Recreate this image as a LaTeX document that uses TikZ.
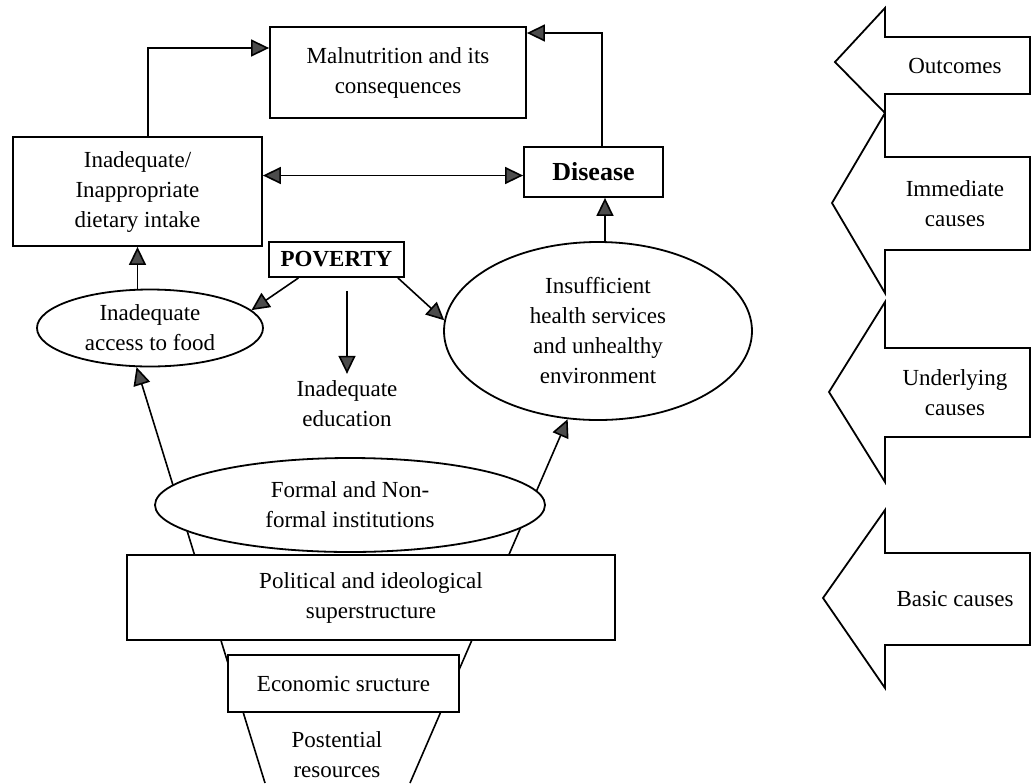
\documentclass[tikz,border=0pt]{standalone}
\usepackage{fontspec}
\setmainfont{Liberation Serif}
\usetikzlibrary{arrows.meta,shapes.geometric,backgrounds}

\tikzset{
  every node/.style={font=\fontsize{11.5}{15}\selectfont},
  box/.style={draw, fill=white, line width=0.9pt, inner sep=1pt, align=center},
  oval/.style={draw, ellipse, fill=white, line width=0.9pt, inner sep=0pt, align=center},
  txt/.style={align=center},
  arr/.style={line width=0.8pt, -{Triangle[length=9pt,width=8.5pt,fill=black!70]}},
  arrs/.style={line width=0.8pt, {Triangle[length=9pt,width=8.5pt,fill=black!70]}-{Triangle[length=9pt,width=8.5pt,fill=black!70]}},
}

\begin{document}
\begin{tikzpicture}[x=0.5pt,y=-0.5pt]
	\useasboundingbox (0,0) rectangle (1035,783);
	% top row
	\node[box, minimum width=124.5pt, minimum height=54.5pt] (diet) at (137.5,191.5) {Inadequate/\\Inappropriate\\dietary intake};
	\node[box, minimum width=128pt, minimum height=45.5pt] (maln) at (398,72.5) {Malnutrition and its\\consequences};
	\node[box, minimum width=69.5pt, minimum height=25pt, font=\fontsize{13}{15}\selectfont\bfseries] (dis) at (593.5,172) {Disease};
	\node[box, minimum width=67.5pt, minimum height=17.5pt, font=\fontsize{11.5}{15}\selectfont\bfseries] (pov) at (336.5,259.5) {POVERTY};
	% middle row
	\node[oval, minimum width=113pt, minimum height=38.5pt] (acc) at (150,328) {Inadequate\\access to food};
	\node[txt] (edu) at (347,404) {Inadequate\\education};
	\node[oval, minimum width=154pt, minimum height=89pt] (hlth) at (598,331) {Insufficient\\health services\\and unhealthy\\environment};
	% funnel
	\node[oval, minimum width=195pt, minimum height=47pt] (inst) at (350,505) {Formal and Non-\\formal institutions};
	\node[box, minimum width=244pt, minimum height=42.5pt] (pol) at (371,597.5) {Political and ideological\\superstructure};
	\node[box, minimum width=115.5pt, minimum height=28.5pt] (eco) at (343.5,683.5) {Economic sructure};
	\node[txt] (res) at (337,755) {Postential\\resources};
	\coordinate (fl) at (265,783);
	\coordinate (fr) at (410,783);

	\draw[arr] ([xshift=5.25pt]diet.north) |- ([yshift=12.25pt]maln.west);
	\draw[arr] ([xshift=4.25pt]dis.north) |- ([yshift=19.75pt]maln.east);
	\draw[arrs] ([yshift=8pt]diet.east) -- ([yshift=8pt]diet.east -| dis.west);
	\draw[arr] (acc.north -| diet.south) -- (diet.south);
	\draw[arr] ([xshift=3.5pt]hlth.north) -- ([xshift=3.5pt]hlth.north |- dis.south);
	\draw[arr] ([xshift=-19pt]pov.south) -- (acc.10);
	\draw[arr] ([yshift=-6.5pt]pov.south -| edu.north) -- (edu.north);
	\draw[arr] ([xshift=-3.5pt]pov.south east) -- (hlth.176);
	\begin{scope}[on background layer]
		\draw[arr] (fl) -- (acc.251);
		\draw[arr] (fr) -- (hlth.251);
	\end{scope}

	% levels on the right
	\foreach \tb/\sa/\sb/\bb/\tx/\ty/\name/\txt in {
		8/37/94/113/835/62/out/Outcomes,
		113/157/250/293/832/203/imm/{Immediate\\causes},
		302/348/437/482/829/392/und/{Underlying\\causes},
		510/553/645/688/823/598/bas/{Basic causes}}
	{
		\draw[line width=0.9pt] (885,\tb) -- (\tx,\ty) -- (885,\bb) -- (885,\sb) -- (1030,\sb) -- (1030,\sa) -- (885,\sa) -- cycle;
		\node[txt] (\name) at (955,{(\sa+\sb)/2}) {\txt};
	}
\end{tikzpicture}
\end{document}
